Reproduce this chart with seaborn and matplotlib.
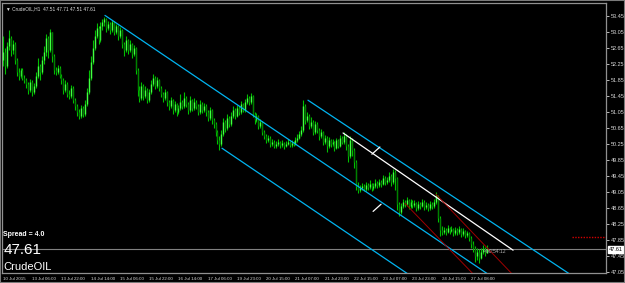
import matplotlib
matplotlib.use("Agg")
import matplotlib.pyplot as plt
import seaborn as sns
import numpy as np
import pandas as pd

# ---------------- data ----------------
opens_first = 52.35
closes = [
    52.55, 52.20, 52.70, 52.90, 52.60, 52.75, 52.35, 52.05, 51.95, 52.10,
    51.90, 51.85, 51.75, 51.60, 51.80, 51.55, 51.70, 51.95, 52.20, 52.05,
    52.35, 52.55, 52.90, 52.60, 53.05, 52.45, 52.10, 52.05, 52.15, 51.95,
    51.85, 51.60, 51.75, 51.50, 51.45, 51.65, 51.35, 51.20, 51.05, 50.95,
    51.15, 51.00, 51.25, 51.55, 51.90, 52.30, 52.65, 52.95, 53.15, 52.85,
    53.20, 53.30, 53.38, 53.15, 53.25, 53.10, 53.30, 53.05, 53.20, 52.95,
    53.10, 52.75, 52.60, 52.85, 52.60, 52.75, 52.50, 52.65, 52.10, 51.60,
    51.40, 51.70, 51.45, 51.60, 51.35, 51.55, 51.75, 51.90, 51.70, 51.85,
    51.65, 51.50, 51.40, 51.55, 51.30, 51.20, 51.35, 51.10, 51.25, 51.05,
    51.15, 51.30, 51.20, 51.40, 51.25, 51.10, 51.35, 51.15, 51.30, 51.20,
    51.05, 51.25, 51.10, 51.20, 51.05, 50.90, 51.10, 50.85, 50.75, 50.55,
    50.35, 50.25, 50.50, 50.80, 50.65, 50.90, 50.75, 50.95, 51.10, 50.95,
    51.15, 51.05, 51.25, 51.10, 51.30, 51.40, 51.30, 51.45, 51.00, 50.85,
    50.95, 50.70, 50.80, 50.55, 50.45, 50.35, 50.40, 50.25, 50.30, 50.20,
    50.25, 50.30, 50.22, 50.28, 50.20, 50.25, 50.30, 50.22, 50.27, 50.25,
    50.35, 50.40, 50.50, 50.60, 51.20, 50.85, 50.95, 50.70, 50.80, 50.55,
    50.75, 50.60, 50.45, 50.55, 50.30, 50.40, 50.20, 50.35, 50.25, 50.30,
    50.15, 50.35, 50.20, 50.40, 50.30, 50.45, 50.20, 49.95, 50.35, 50.10,
    49.80, 49.20, 49.10, 49.15, 49.20, 49.12, 49.22, 49.18, 49.25, 49.15,
    49.20, 49.28, 49.22, 49.30, 49.25, 49.40, 49.30, 49.35, 49.45, 49.30,
    49.55, 49.40, 48.75, 48.55, 48.70, 48.80, 48.75, 48.85, 48.70, 48.80,
    48.72, 48.78, 48.65, 48.75, 48.70, 48.80, 48.68, 48.72, 48.65, 48.75,
    48.70, 48.80, 48.95, 48.40, 48.10, 48.05, 48.10, 48.05, 48.15, 48.08,
    48.12, 48.02, 48.10, 48.05, 48.12, 48.00, 48.08, 47.98, 48.02, 47.90,
    47.75, 47.65, 47.45, 47.55, 47.40, 47.55, 47.62, 47.51, 47.61,
]
highs = [
    52.95, 52.65, 52.80, 53.10, 52.95, 52.85, 52.80, 52.40, 52.15, 52.15,
    52.15, 51.98, 51.90, 51.80, 51.88, 51.85, 51.78, 52.05, 52.40, 52.25,
    52.45, 52.70, 53.00, 52.95, 53.12, 53.05, 52.50, 52.18, 52.22, 52.20,
    52.00, 51.90, 51.85, 51.80, 51.60, 51.72, 51.70, 51.40, 51.25, 51.12,
    51.22, 51.20, 51.35, 51.65, 52.10, 52.45, 52.85, 53.10, 53.28, 53.20,
    53.30, 53.38, 53.42, 53.40, 53.32, 53.30, 53.35, 53.32, 53.25, 53.22,
    53.18, 53.12, 52.80, 52.95, 52.88, 52.85, 52.78, 52.72, 52.68, 52.15,
    51.70, 51.80, 51.75, 51.70, 51.65, 51.62, 51.85, 52.00, 51.95, 51.92,
    51.88, 51.70, 51.55, 51.62, 51.58, 51.35, 51.42, 51.38, 51.32, 51.28,
    51.22, 51.50, 51.35, 51.55, 51.45, 51.30, 51.45, 51.38, 51.40, 51.35,
    51.25, 51.35, 51.30, 51.28, 51.25, 51.10, 51.18, 51.12, 50.90, 50.80,
    50.60, 50.45, 50.60, 50.90, 50.85, 51.00, 50.95, 51.05, 51.20, 51.15,
    51.22, 51.20, 51.32, 51.28, 51.38, 51.50, 51.45, 51.52, 51.48, 51.05,
    51.02, 50.98, 50.88, 50.82, 50.60, 50.50, 50.48, 50.45, 50.36, 50.34,
    50.32, 50.38, 50.33, 50.34, 50.30, 50.31, 50.37, 50.33, 50.34, 50.32,
    50.42, 50.50, 50.58, 50.70, 51.35, 51.25, 51.05, 51.00, 50.92, 50.85,
    50.82, 50.80, 50.65, 50.62, 50.58, 50.48, 50.44, 50.42, 50.38, 50.36,
    50.33, 50.40, 50.38, 50.46, 50.44, 50.55, 50.50, 50.25, 50.45, 50.40,
    50.15, 49.85, 49.30, 49.22, 49.26, 49.24, 49.30, 49.28, 49.34, 49.28,
    49.27, 49.36, 49.32, 49.38, 49.35, 49.48, 49.45, 49.42, 49.55, 49.50,
    49.62, 49.60, 49.42, 48.80, 48.78, 48.88, 48.85, 48.92, 48.88, 48.86,
    48.84, 48.85, 48.80, 48.82, 48.80, 48.88, 48.84, 48.80, 48.76, 48.82,
    48.80, 48.88, 49.05, 48.98, 48.45, 48.20, 48.18, 48.14, 48.22, 48.18,
    48.20, 48.15, 48.16, 48.14, 48.20, 48.15, 48.14, 48.10, 48.08, 48.05,
    47.95, 47.82, 47.70, 47.65, 47.62, 47.65, 47.72, 47.66, 47.71,
]
lows = [
    52.20, 52.00, 52.15, 52.60, 52.45, 52.50, 52.25, 51.95, 51.85, 51.90,
    51.85, 51.78, 51.65, 51.50, 51.55, 51.45, 51.50, 51.65, 51.90, 51.85,
    52.00, 52.25, 52.45, 52.40, 52.55, 52.30, 52.00, 51.98, 52.00, 51.90,
    51.75, 51.50, 51.55, 51.42, 51.38, 51.40, 51.28, 51.10, 50.95, 50.88,
    50.90, 50.92, 50.95, 51.20, 51.50, 51.85, 52.25, 52.60, 52.90, 52.75,
    52.80, 53.10, 53.20, 53.05, 53.10, 53.00, 53.05, 52.98, 53.00, 52.85,
    52.90, 52.65, 52.45, 52.55, 52.50, 52.55, 52.40, 52.45, 52.00, 51.45,
    51.30, 51.35, 51.35, 51.40, 51.28, 51.30, 51.50, 51.70, 51.62, 51.65,
    51.58, 51.42, 51.30, 51.35, 51.20, 51.10, 51.15, 51.00, 51.05, 50.95,
    51.00, 51.10, 51.12, 51.15, 51.18, 51.00, 51.05, 51.08, 51.10, 51.12,
    50.98, 51.00, 51.02, 51.05, 50.95, 50.82, 50.85, 50.75, 50.65, 50.45,
    50.25, 50.10, 50.20, 50.45, 50.55, 50.60, 50.68, 50.70, 50.90, 50.88,
    50.92, 50.98, 51.00, 51.05, 51.05, 51.25, 51.22, 51.25, 50.92, 50.75,
    50.80, 50.62, 50.65, 50.48, 50.38, 50.28, 50.30, 50.18, 50.20, 50.14,
    50.15, 50.20, 50.15, 50.18, 50.13, 50.16, 50.22, 50.16, 50.18, 50.19,
    50.22, 50.30, 50.36, 50.45, 50.55, 50.75, 50.80, 50.62, 50.65, 50.48,
    50.50, 50.52, 50.35, 50.40, 50.22, 50.25, 50.05, 50.15, 50.18, 50.20,
    50.08, 50.12, 50.15, 50.18, 50.24, 50.25, 50.10, 49.80, 49.90, 49.95,
    49.65, 49.10, 49.02, 49.05, 49.10, 49.06, 49.08, 49.10, 49.12, 49.08,
    49.10, 49.15, 49.14, 49.18, 49.18, 49.22, 49.22, 49.25, 49.30, 49.20,
    49.25, 49.10, 48.60, 48.45, 48.50, 48.65, 48.68, 48.70, 48.62, 48.65,
    48.65, 48.66, 48.58, 48.60, 48.62, 48.66, 48.60, 48.62, 48.58, 48.60,
    48.62, 48.65, 48.75, 48.30, 47.95, 47.98, 48.00, 47.98, 48.02, 48.00,
    48.04, 47.95, 47.98, 47.98, 48.00, 47.92, 47.95, 47.90, 47.92, 47.82,
    47.65, 47.55, 47.30, 47.35, 47.28, 47.38, 47.50, 47.45, 47.51,
]

ytick_vals = [53.45, 53.05, 52.65, 52.25, 51.85, 51.45, 51.05, 50.65, 50.25,
              49.85, 49.45, 49.05, 48.65, 48.25, 47.85, 47.45, 47.05]
xtick_idx = [0, 15, 30, 45, 60, 75, 90, 105, 120, 135, 150, 165, 180, 195, 210, 225, 240]
xtick_labels = ["10 Jul 2015", "13 Jul 06:00", "13 Jul 22:00", "14 Jul 14:00",
                "15 Jul 06:00", "15 Jul 22:00", "16 Jul 14:00", "17 Jul 06:00",
                "19 Jul 23:00", "20 Jul 15:00", "21 Jul 07:00", "21 Jul 23:00",
                "22 Jul 15:00", "23 Jul 07:00", "23 Jul 23:00", "24 Jul 15:00",
                "27 Jul 08:00"]

# channel / trend lines: (x0, y0, x1, y1) in bar index / price
cyan_lines = [(52.3, 53.46, 260.0, 46.62),
              (112.3, 50.14, 250.0, 45.60),
              (156.4, 51.34, 300.0, 46.69)]
white_lines = [(174.4, 50.52, 261.6, 47.59),
               (189.2, 49.99, 193.3, 50.17),
               (189.8, 48.56, 193.9, 48.74)]
red_lines = [(222.0, 48.99, 262.0, 46.95),
             (206.2, 48.76, 245.0, 46.80)]
red_dotted = (291.8, 309.0, 47.92)
last_price = 47.61
symbol = "CrudeOIL"
spread_text = "Spread = 4.0"
header = "\u25BC CrudeOIL,H1  47.51 47.71 47.51 47.61"
timer = "<00:54:12"

# ---------------- plot ----------------
sns.set_theme(style="dark")
plt.rcParams["font.family"] = ["Liberation Sans", "DejaVu Sans"]

W, H = 625, 283
fig = plt.figure(figsize=(W / 100, H / 100), dpi=100, facecolor="black")
ax = fig.add_axes([2 / W, (H - 273) / H, (606 - 2) / W, (273 - 3) / H])
ax.set_facecolor("black")

n = len(closes)
idx = np.arange(n)
opens = np.array([opens_first] + closes[:-1])
c = np.array(closes)
hi = np.array(highs)
lo = np.array(lows)
bull = c >= opens

df = pd.DataFrame({"i": idx, "o": opens, "h": hi, "l": lo, "c": c, "bull": bull})

ax.vlines(df["i"], df["l"], df["h"], color="#00c000", lw=0.8, zorder=3)
b = df[df["bull"]]
r = df[~df["bull"]]
ax.vlines(b["i"], b["o"], b["c"], color="#40ff40", lw=1.0, zorder=4)
ax.vlines(r["i"], r["c"], r["o"], color="#008000", lw=1.0, zorder=4)

# current price line
ax.axhline(last_price, color="#808080", lw=0.8, zorder=2)

for (x0, y0, x1, y1) in cyan_lines:
    ax.plot([x0, x1], [y0, y1], color="#00b4f0", lw=0.9, zorder=5)
for (x0, y0, x1, y1) in white_lines:
    ax.plot([x0, x1], [y0, y1], color="white", lw=0.9, zorder=5)
for (x0, y0, x1, y1) in red_lines:
    ax.plot([x0, x1], [y0, y1], color="#a00000", lw=0.7, zorder=5)
ax.plot([red_dotted[0], red_dotted[1]], [red_dotted[2], red_dotted[2]],
        color="#d00000", lw=1.0, ls=(0, (1, 1)), zorder=5)

px_per_bar = 1.95
x_left = -0.5
x_right = x_left + (606 - 2) / px_per_bar
ax.set_xlim(x_left, x_right)
ax.set_ylim(47.02, 53.77)

for s in ax.spines.values():
    s.set_color("#909090")
    s.set_linewidth(0.9)

ax.yaxis.tick_right()
ax.set_yticks(ytick_vals)
ax.set_yticklabels([f"{v:.2f}" for v in ytick_vals])
ax.set_xticks(xtick_idx)
ax.set_xticklabels(xtick_labels)
ax.tick_params(axis="y", colors="#d8d8d8", labelsize=4.0, length=2, width=0.6, pad=1.5,
               labelright=True, labelleft=False, right=True, left=False)
ax.tick_params(axis="x", colors="#d8d8d8", labelsize=3.2, length=2, width=0.6, pad=1.2)
for lab in ax.get_xticklabels():
    lab.set_horizontalalignment("left")
ax.grid(False)

# price label on axis
ax.annotate(f"{last_price:.2f}", xy=(1.0, last_price), xycoords=("axes fraction", "data"),
            xytext=(2, 0), textcoords="offset points", va="center", ha="left",
            fontsize=4.0, color="black",
            bbox=dict(boxstyle="square,pad=0.15", fc="white", ec="white"))

# timer
ax.text(246.5, 47.55, timer, color="#b0b0b0", fontsize=3.6, va="center", ha="left", zorder=6)

# texts
ax.text(0.006, 0.988, header, transform=ax.transAxes, color="#e0e0e0", fontsize=3.4,
        va="top", ha="left")
ax.text(0.002, (273 - 235) / 270, spread_text, transform=ax.transAxes, color="white",
        fontsize=5.0, fontweight="bold", va="center", ha="left")
ax.text(0.002, (273 - 250) / 270, f"{last_price:.2f}", transform=ax.transAxes, color="white",
        fontsize=11, va="center", ha="left")
ax.text(0.002, (273 - 267) / 270, symbol, transform=ax.transAxes, color="white",
        fontsize=8, va="center", ha="left")

# outer frame
fig.patches.append(plt.Rectangle((0, 0), 1, 1, transform=fig.transFigure, fill=False,
                                 ec="#7a7a7a", lw=1.5))

fig.savefig("out.png", dpi=100, facecolor="black")
